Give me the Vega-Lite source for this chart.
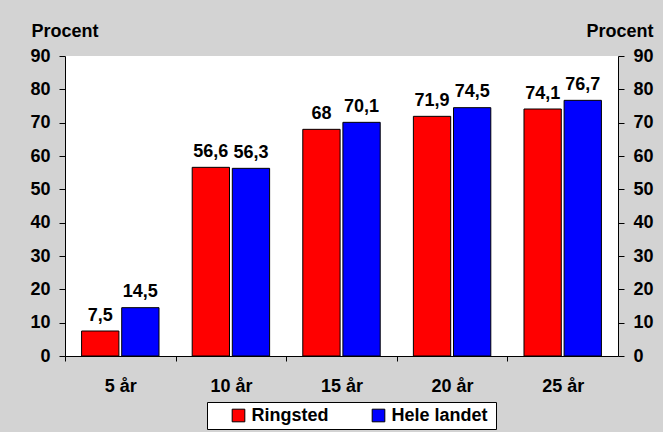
{
  "$schema": "https://vega.github.io/schema/vega-lite/v6.json",
  "width": 553,
  "height": 300,
  "autosize": "none",
  "padding": {"left": 65, "top": 56, "right": 45, "bottom": 76},
  "background": "#d3d3d3",
  "data": {
    "values": [
      {"alder": "5 år", "serie": "Ringsted", "pct": 7.5},
      {"alder": "5 år", "serie": "Hele landet", "pct": 14.5},
      {"alder": "10 år", "serie": "Ringsted", "pct": 56.6},
      {"alder": "10 år", "serie": "Hele landet", "pct": 56.3},
      {"alder": "15 år", "serie": "Ringsted", "pct": 68},
      {"alder": "15 år", "serie": "Hele landet", "pct": 70.1},
      {"alder": "20 år", "serie": "Ringsted", "pct": 71.9},
      {"alder": "20 år", "serie": "Hele landet", "pct": 74.5},
      {"alder": "25 år", "serie": "Ringsted", "pct": 74.1},
      {"alder": "25 år", "serie": "Hele landet", "pct": 76.7}
    ]
  },
  "encoding": {
    "x": {
      "field": "alder",
      "type": "nominal",
      "sort": ["5 år", "10 år", "15 år", "20 år", "25 år"],
      "scale": {"paddingInner": 0.3, "paddingOuter": 0.15},
      "axis": {
        "title": null,
        "labelAngle": 0,
        "tickSize": 5,
        "tickOffset": -55.3,
        "labelOffset": 55.3,
        "labelBaseline": "alphabetic",
        "labelPadding": 30
      }
    },
    "xOffset": {
      "field": "serie",
      "type": "nominal",
      "sort": ["Ringsted", "Hele landet"],
      "scale": {"paddingInner": 0.07, "paddingOuter": 0}
    }
  },
  "layer": [
    {
      "mark": {"type": "bar", "stroke": "black", "strokeWidth": 1},
      "encoding": {
        "y": {
          "field": "pct",
          "type": "quantitative",
          "scale": {"domain": [0, 90], "nice": false},
          "axis": {
            "title": "Procent",
            "titleAngle": 0,
            "titleAlign": "left",
            "titleBaseline": "alphabetic",
            "titleX": -34,
            "titleY": -19.5,
            "values": [0, 10, 20, 30, 40, 50, 60, 70, 80, 90],
            "orient": "left",
            "tickSize": 6,
            "labelPadding": 9
          }
        },
        "color": {
          "field": "serie",
          "type": "nominal",
          "sort": ["Ringsted", "Hele landet"],
          "scale": {"domain": ["Ringsted", "Hele landet"], "range": ["#ff0000", "#0000ff"]},
          "legend": {
            "title": "\u00a0",
            "titleOrient": "right",
            "titlePadding": 4,
            "titleFontSize": 18,
            "orient": "none",
            "direction": "horizontal",
            "legendX": 142,
            "legendY": 346,
            "fillColor": "white",
            "strokeColor": "black",
            "padding": 4.5,
            "symbolType": "square",
            "symbolSize": 160,
            "symbolStrokeColor": "black",
            "symbolStrokeWidth": 1,
            "symbolOpacity": 1,
            "symbolOffset": 18,
            "labelOffset": 4,
            "columnPadding": 22,
            "labelFontSize": 18,
            "labelFont": "Liberation Sans",
            "labelFontWeight": "bold",
            "labelColor": "black"
          }
        }
      }
    },
    {
      "mark": {
        "type": "text",
        "baseline": "alphabetic",
        "dy": -10.5,
        "fontSize": 18,
        "font": "Liberation Sans",
        "fontWeight": "bold",
        "color": "black"
      },
      "encoding": {
        "y": {
          "field": "pct",
          "type": "quantitative",
          "scale": {"domain": [0, 90], "nice": false},
          "axis": {
            "title": "Procent",
            "titleAngle": 0,
            "titleAlign": "right",
            "titleBaseline": "alphabetic",
            "titleX": 35,
            "titleY": -19.5,
            "values": [0, 10, 20, 30, 40, 50, 60, 70, 80, 90],
            "orient": "right",
            "tickSize": 6,
            "labelPadding": 9
          }
        },
        "text": {"field": "pct", "type": "quantitative", "format": ".1~f"}
      }
    }
  ],
  "resolve": {"scale": {"y": "independent"}, "axis": {"y": "independent"}},
  "config": {
    "locale": {
      "number": {"decimal": ",", "thousands": ".", "grouping": [3], "currency": ["", " kr."]}
    },
    "view": {"fill": "white", "stroke": null},
    "axis": {
      "grid": false,
      "domainColor": "black",
      "tickColor": "black",
      "labelColor": "black",
      "titleColor": "black",
      "labelFont": "Liberation Sans",
      "labelFontSize": 18,
      "labelFontWeight": "bold",
      "titleFont": "Liberation Sans",
      "titleFontSize": 18,
      "titleFontWeight": "bold",
      "domainWidth": 1,
      "tickWidth": 1
    }
  }
}
